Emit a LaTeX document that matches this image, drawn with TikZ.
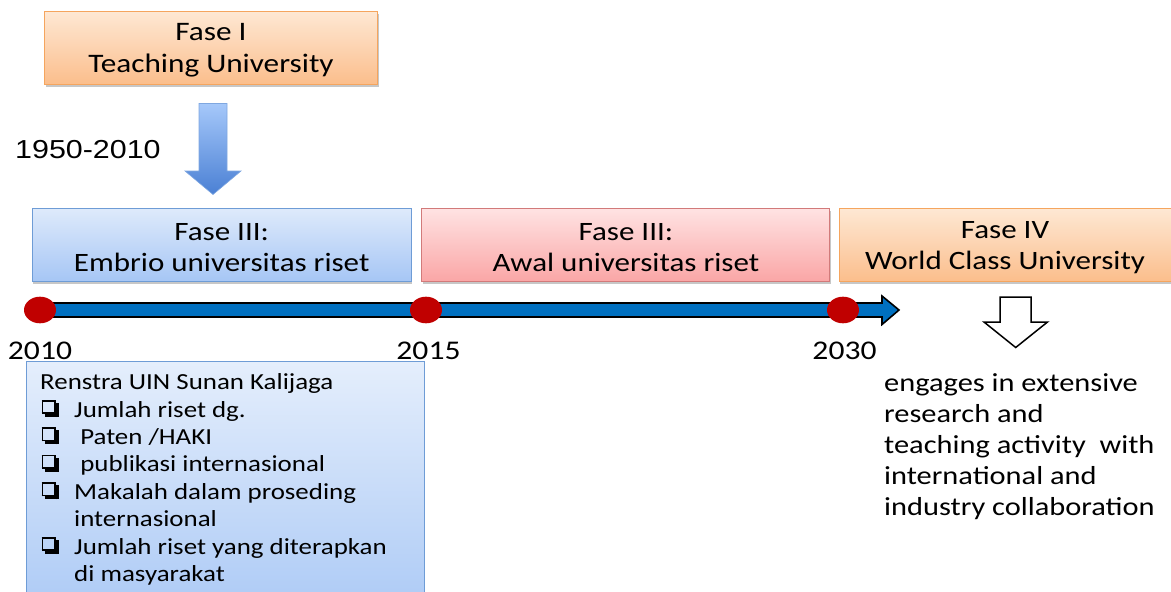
\documentclass[tikz,border=0pt]{standalone}
\usepackage{fontspec}
\setmainfont{Carlito}[FakeStretch=1.17]
\newfontfamily\arialf{Liberation Sans}[FakeStretch=1.17]
\usetikzlibrary{shadows}
\definecolor{ortop}{HTML}{FEE8D4}
\definecolor{orbot}{HTML}{FBBE8C}
\definecolor{orbd}{HTML}{F5A55E}
\definecolor{bltop}{HTML}{DEEAFB}
\definecolor{blbot}{HTML}{A6C6F5}
\definecolor{blbd}{HTML}{6E9CD6}
\definecolor{pktop}{HTML}{FFE3E3}
\definecolor{pkbot}{HTML}{FAA6A6}
\definecolor{pkbd}{HTML}{D27A7A}
\definecolor{artop}{HTML}{A6C8FA}
\definecolor{arbot}{HTML}{4A80D4}
\definecolor{arbd}{HTML}{7FA7E0}
\definecolor{tlblue}{HTML}{0070C0}
\definecolor{dotred}{HTML}{C00000}
\newcommand{\chkglyph}{%
\rlap{\raisebox{3pt}{\rule{1.6pt}{14pt}}}%
\rlap{\raisebox{15.4pt}{\rule{14pt}{1.6pt}}}%
\rlap{\raisebox{3pt}{\rule{14pt}{1.6pt}}}%
\rlap{\hspace{12.4pt}\raisebox{3pt}{\rule{1.6pt}{14pt}}}%
\rlap{\hspace{14pt}\rule{3.2pt}{14pt}}%
\rlap{\hspace{3pt}\rule{14.2pt}{3pt}}}
\newcommand{\chkbox}{\makebox[34pt][l]{\hspace{1.5pt}\chkglyph}}
\begin{document}
\begin{tikzpicture}[x=1pt,y=-1pt,
  phase/.style={draw, line width=0.9pt, inner sep=0pt,
    minimum height=73pt,
    drop shadow={shadow xshift=1pt, shadow yshift=-2.5pt, opacity=0.22, fill=black}},
  orbox/.style={phase, top color=ortop, bottom color=orbot, draw=orbd},
  blbox/.style={phase, top color=bltop, bottom color=blbot, draw=blbd},
  pkbox/.style={phase, top color=pktop, bottom color=pkbot, draw=pkbd},
  phlabel/.style={inner sep=0pt, align=center, font=\fontsize{26.5}{31}\selectfont},
  yearlbl/.style={anchor=base, inner sep=0pt, font=\fontsize{27}{27}\selectfont}
]
\useasboundingbox (0,0) rectangle (1171,592);
\clip (0,0) rectangle (1171,592);

% Fase I
\node[orbox, minimum width=333pt] (f1) at (211,47.7) {};
\node[phlabel, font=\fontsize{26.7}{32}\selectfont] (f1t) at ([yshift=-3pt]f1.center) {Fase I\\Teaching University};

% period label
\node[anchor=base west, inner sep=0pt, font=\arialf\fontsize{26}{26}\selectfont] (per) at (15,158) {1950-2010};

% blue down arrow
\shade[top color=artop, bottom color=arbot, draw=arbd, line width=0.6pt]
  (199,103.5) -- (227,103.5) -- (227,171) -- (241,171) -- (213,194.5) -- (185,171) -- (199,171) -- cycle;

% phase boxes
\node[blbox, minimum width=378.5pt] (f2) at (221.7,244.7) {};
\node[phlabel] (f2t) at ([yshift=-3pt]f2.center) {Fase III:\\Embrio universitas riset};
\node[pkbox, minimum width=408pt] (f3) at (625.9,244.7) {};
\node[phlabel] (f3t) at ([yshift=-3pt]f3.center) {Fase III:\\Awal universitas riset};
\node[orbox, minimum width=332pt] (f4) at (1005,244.7) {};
\node[phlabel] (f4t) at ([yshift=-3pt]f4.center) {Fase IV\\World Class University};

% timeline
\draw[fill=tlblue, line width=1.6pt, line join=miter]
  (40,303) -- (882,303) -- (882,296) -- (899,310) -- (882,324.5) -- (882,317) -- (40,317) -- cycle;
\fill[dotred] (40,310) ellipse (16 and 13.3);
\coordinate (d1) at (40,310);
\fill[dotred] (426,310) ellipse (16 and 13.3);
\coordinate (d2) at (426,310);
\fill[dotred] (843,310) ellipse (16 and 13.3);
\coordinate (d3) at (843,310);

\node[yearlbl] (y1) at (40,359) {2010};
\node[yearlbl] (y2) at (428.5,359) {2015};
\node[yearlbl] (y3) at (844.5,359) {2030};

% hollow arrow
\draw[fill=white, line width=1.5pt, line join=miter]
  (1000,297) -- (1031,297) -- (1031,322) -- (1047.5,322) -- (1015.7,347.5) -- (984,322) -- (1000,322) -- cycle;

% Renstra box
\shade[top color=bltop!80!white, bottom color=blbot, draw=blbd, line width=0.9pt]
  (26,361) rectangle (424.5,640);
\node[anchor=north west, inner sep=0pt, align=left, font=\fontsize{23}{27.4}\selectfont] (ren) at (40,373.5) {%
Renstra UIN Sunan Kalijaga\\
\chkbox Jumlah riset dg.\\
\chkbox\ Paten /HAKI\\
\chkbox\ publikasi internasional\\
\chkbox Makalah dalam proseding\\
\hspace*{34pt}internasional\\
\chkbox Jumlah riset yang diterapkan\\
\hspace*{34pt}di masyarakat};

% right description
\node[anchor=north west, inner sep=0pt, align=left, font=\fontsize{26}{31}\selectfont] (desc) at (884,373) {%
engages in extensive\\
research and\\
teaching activity\ \ with\\
international and\\
industry collaboration};
\end{tikzpicture}
\end{document}
